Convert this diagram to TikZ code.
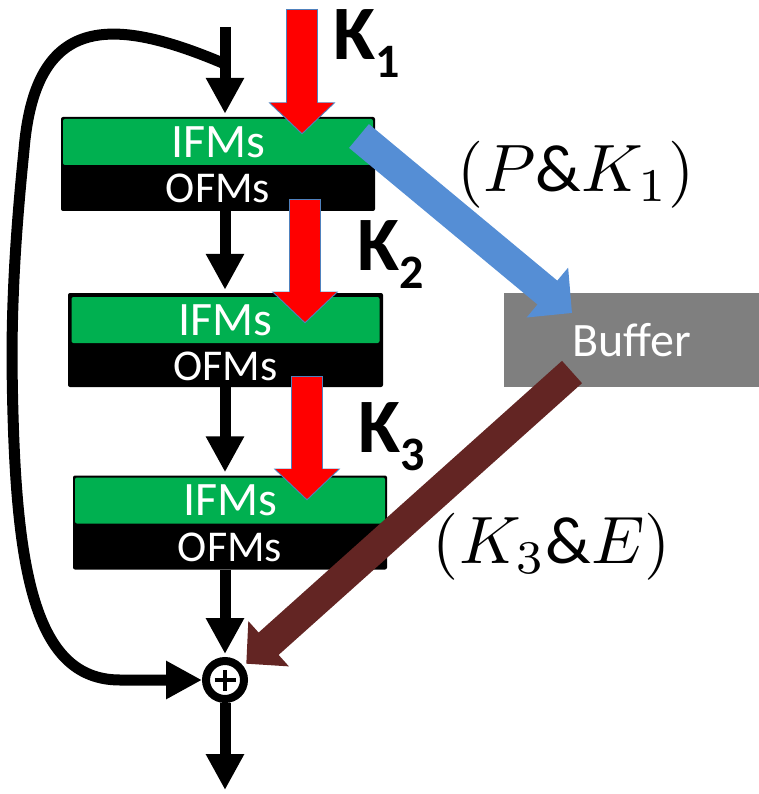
\documentclass[tikz,border=0pt]{standalone}
\usepackage{graphicx}
\usepackage{fontspec}
\setmainfont{Carlito}
\usetikzlibrary{arrows.meta,positioning}

\definecolor{ifmgreen}{RGB}{0,176,80}
\definecolor{bufgray}{RGB}{127,127,127}
\definecolor{pkblue}{RGB}{85,142,213}
\definecolor{kebrown}{RGB}{99,37,35}
\definecolor{kedge}{RGB}{79,129,189}

\tikzset{
  ofm/.style={fill=black,rounded corners=2pt,minimum height=94pt,inner sep=0pt},
  ifm/.style={fill=ifmgreen,rounded corners=2pt,minimum height=46pt,inner sep=0pt,
    anchor=north,text=white,font=\fontsize{48}{48}\selectfont},
  ofmtext/.style={text=white,minimum height=46pt,inner sep=0pt,font=\fontsize{44}{44}\selectfont},
  flow/.style={line width=11pt,shorten >=3pt,-{Triangle[width=36pt,length=36pt]}},
  kin/.style={red,line width=30pt,-{Triangle[width=61pt,length=30pt]},
    preaction={draw=kedge,line width=32pt,shorten >=-1.5pt,shorten <=-1pt,
      -{Triangle[width=65pt,length=32pt]}}},
  klab/.style={anchor=base west,inner sep=0pt,font=\fontsize{77}{77}\selectfont\bfseries},
  mlab/.style={inner sep=0pt}
}
\newcommand\ksub[1]{K\raisebox{-18pt}{\fontsize{48}{48}\selectfont #1}}

\begin{document}
\begin{tikzpicture}[x=1pt,y=-1pt]
\useasboundingbox (0,0) rectangle (759,794);

% layers
\node[ofm,minimum width=314pt] (b1) at (218,164) {};
\node[ifm,minimum width=310pt] (i1) at ([yshift=-2pt]b1.north) {IFMs};
\node[ofmtext,below=0pt of i1] (o1) {OFMs};
\node[ofm,minimum width=315pt] (b2) at (225.5,340) {};
\node[ifm,minimum width=308pt] (i2) at ([yshift=-4pt]b2.north) {IFMs};
\node[ofmtext,below=0pt of i2] (o2) {OFMs};
\node[ofm,minimum width=314pt] (b3) at (230,522.5) {};
\node[ifm,minimum width=310pt] (i3) at ([yshift=-2pt]b3.north) {IFMs};
\node[ofmtext,below=0pt of i3] (o3) {OFMs};

\node[fill=bufgray,minimum width=255pt,minimum height=94pt,inner sep=0pt,
  text=white,font=\fontsize{48}{48}\selectfont] (buf) at (631.5,340) {Buffer};

\node[circle,draw,line width=8pt,minimum size=38pt,inner sep=0pt] (sum) at (225,680) {};
\draw[line width=4.5pt] ([xshift=-10.5pt]sum.center) -- ([xshift=10.5pt]sum.center);
\draw[line width=4.5pt] ([yshift=-10.5pt]sum.center) -- ([yshift=10.5pt]sum.center);

% main path
\coordinate (in) at (225,27);
\coordinate (fork) at (225,64);
\coordinate (out) at (225,790);
\draw[flow] (in) -- (b1.north -| in);
\draw[flow] (b1.south -| in) -- (b2.north -| in);
\draw[flow] (b2.south -| in) -- (b3.north -| in);
\draw[flow] (b3.south -| in) -- (sum);
\draw[flow,shorten >=0pt] (sum) -- (out);

% skip connection
\draw[flow,shorten >=0pt] (fork) .. controls (110,15) and (35,15) .. (24,150)
  .. controls (18,210) and (12,280) .. (12,360)
  .. controls (14,560) and (30,680) .. (120,680) -- (sum.west);

% weights
\coordinate (k1) at (302,10);
\coordinate (k1end) at (302,133);
\coordinate (k2) at (305,200);
\coordinate (k2end) at (305,322);
\coordinate (k3) at (307,377);
\coordinate (k3end) at (307,499);
\draw[kin] (k1) -- (k1end);
\draw[kin] (k2) -- (k2end);
\draw[kin] (k3) -- (k3end);
\node[klab] (k1lab) at (333,60) {\ksub{1}};
\node[klab] (k2lab) at (357,270) {\ksub{2}};
\node[klab] (k3lab) at (358,452) {\ksub{3}};

% buffer traffic
\coordinate (pk) at (359,136);
\coordinate (pkend) at (572,313);
\coordinate (ke) at (572,372);
\draw[pkblue,line width=31pt,-{Triangle[width=63pt,length=32pt]}] (pk) -- (pkend);
\draw[kebrown,line width=30pt,-{Triangle[width=59pt,length=30pt]}] (ke) -- ([xshift=5pt]sum.north east);
\node[mlab] (pklab) at (576,175) {\scalebox{6.7}{$(P\&K_1)$}};
\node[mlab] (kelab) at (552,547) {\scalebox{6.7}{$(K_3\&E)$}};
\end{tikzpicture}
\end{document}
